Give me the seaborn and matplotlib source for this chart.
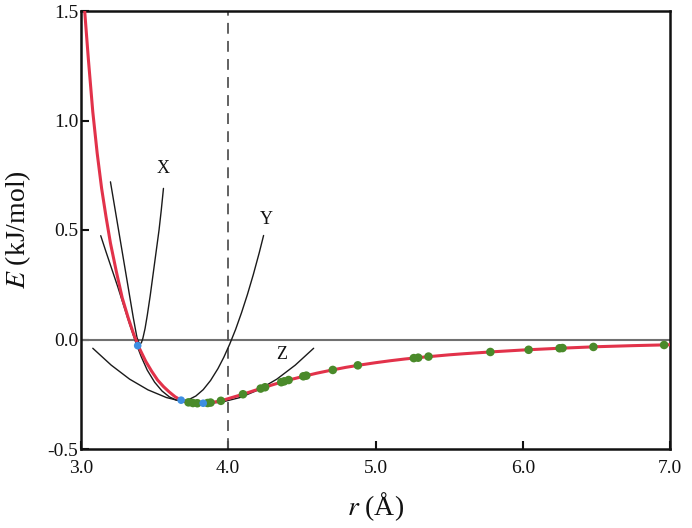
import matplotlib
matplotlib.use("Agg")
import matplotlib.pyplot as plt
import seaborn as sns
from matplotlib.ticker import FormatStrFormatter

# potential energy curve E(r)
r_curve = [3.025, 3.05, 3.08, 3.11, 3.14, 3.17, 3.20, 3.24, 3.28, 3.32, 3.36, 3.40,
           3.44, 3.48, 3.52, 3.56, 3.60, 3.64, 3.68, 3.72, 3.76, 3.80, 3.84, 3.88,
           3.92, 3.96, 4.00, 4.05, 4.10, 4.20, 4.30, 4.40, 4.50, 4.60, 4.70, 4.80,
           4.90, 5.00, 5.10, 5.20, 5.30, 5.40, 5.50, 5.60, 5.80, 6.00, 6.25, 6.50,
           6.75, 7.00]
e_curve = [1.50, 1.28, 1.04, 0.85, 0.69, 0.56, 0.44, 0.31, 0.19, 0.10, 0.02, -0.045,
           -0.10, -0.145, -0.185, -0.215, -0.24, -0.262, -0.277, -0.286, -0.290, -0.292,
           -0.291, -0.288, -0.284, -0.278, -0.270, -0.260, -0.250, -0.228, -0.207,
           -0.187, -0.170, -0.154, -0.140, -0.127, -0.116, -0.106, -0.097, -0.089,
           -0.082, -0.076, -0.070, -0.065, -0.056, -0.048, -0.040, -0.033, -0.028,
           -0.024]

# sampled points (green) and expansion points (blue)
green_r = [3.73, 3.76, 3.79, 3.86, 3.88, 3.95, 4.10, 4.22, 4.25, 4.36, 4.38, 4.41,
           4.51, 4.53, 4.71, 4.88, 5.26, 5.29, 5.36, 5.78, 6.04, 6.25, 6.27, 6.48, 6.96]
green_e = [-0.287, -0.290, -0.291, -0.290, -0.288, -0.280, -0.250, -0.224, -0.218,
           -0.195, -0.191, -0.185, -0.168, -0.165, -0.139, -0.118, -0.085, -0.083,
           -0.078, -0.057, -0.047, -0.040, -0.039, -0.034, -0.025]
blue_r = [3.385, 3.68, 3.83]
blue_e = [-0.028, -0.277, -0.291]

# harmonic approximations X, Y, Z
x_r = [3.20, 3.22, 3.24, 3.26, 3.28, 3.30, 3.32, 3.34, 3.355, 3.37, 3.38, 3.39,
       3.40, 3.41, 3.42, 3.435, 3.45, 3.47, 3.49, 3.51, 3.53, 3.545, 3.56]
x_e = [0.72, 0.64, 0.56, 0.48, 0.40, 0.32, 0.24, 0.16, 0.10, 0.045, 0.01, -0.01,
       -0.02, -0.015, 0.005, 0.05, 0.11, 0.20, 0.30, 0.40, 0.50, 0.59, 0.69]
y_r = [3.134, 3.17, 3.21, 3.25, 3.29, 3.33, 3.37, 3.41, 3.45, 3.50, 3.55, 3.60,
       3.645, 3.685, 3.73, 3.78, 3.83, 3.88, 3.93, 3.97, 4.01, 4.05, 4.09, 4.13,
       4.17, 4.21, 4.24]
y_e = [0.474, 0.40, 0.32, 0.24, 0.155, 0.07, -0.01, -0.08, -0.14, -0.195, -0.235,
       -0.262, -0.276, -0.28, -0.275, -0.258, -0.229, -0.187, -0.133, -0.081,
       -0.021, 0.046, 0.122, 0.205, 0.296, 0.395, 0.475]
z_r = [3.08, 3.205, 3.33, 3.455, 3.58, 3.705, 3.83, 3.955, 4.08, 4.205, 4.33, 4.455, 4.58]
z_e = [-0.040, -0.117, -0.181, -0.230, -0.265, -0.286, -0.293, -0.286, -0.265,
       -0.230, -0.181, -0.117, -0.040]

labels = ["X", "Y", "Z"]
label_r = [3.56, 4.26, 4.365]
label_e = [0.78, 0.55, -0.068]

x_ticks = [3.0, 4.0, 5.0, 6.0, 7.0]
y_ticks = [-0.5, 0.0, 0.5, 1.0, 1.5]

sns.set_theme(style="ticks")
plt.rcParams["font.family"] = ["Liberation Serif", "DejaVu Serif"]
plt.rcParams["mathtext.fontset"] = "stix"
plt.rcParams["axes.unicode_minus"] = False

fig = plt.figure(figsize=(6.92, 5.28), dpi=100)
ax = fig.add_axes([81 / 692, 1 - 449 / 528, 589 / 692, 438 / 528])

# reference lines
ax.axhline(0.0, color="#707070", lw=1.5, zorder=1)
ax.axvline(4.0, color="#555555", lw=1.3, dashes=(6, 4), zorder=1)

# approximations
for rr, ee in [(x_r, x_e), (y_r, y_e), (z_r, z_e)]:
    sns.lineplot(x=rr, y=ee, ax=ax, color="#1a1a1a", lw=1.0,
                 sort=False, estimator=None, zorder=2)

sns.lineplot(x=r_curve, y=e_curve, ax=ax, color="#e2324a", lw=2.2,
             sort=False, estimator=None, zorder=3)

sns.scatterplot(x=green_r, y=green_e, ax=ax, color="#4a8a2a", s=38,
                edgecolor="none", zorder=4)
sns.scatterplot(x=blue_r, y=blue_e, ax=ax, color="#3d8ee2", s=30,
                edgecolor="none", zorder=5)

for lab, lr, le in zip(labels, label_r, label_e):
    ax.text(lr, le, lab, fontsize=13, ha="center", va="center", color="#111111")

ax.set_xlim(3.0, 7.0)
ax.set_ylim(-0.5, 1.5)
ax.set_xticks(x_ticks)
ax.set_yticks(y_ticks)
ax.xaxis.set_major_formatter(FormatStrFormatter("%.1f"))
ax.yaxis.set_major_formatter(FormatStrFormatter("%.1f"))
ax.tick_params(axis="both", direction="in", length=6, width=1.5,
               labelsize=14, colors="#111111")
ax.tick_params(axis="y", pad=2)
ax.tick_params(axis="x", pad=8)

for side in ["left", "right", "top", "bottom"]:
    ax.spines[side].set_visible(True)
    ax.spines[side].set_linewidth(1.8)
    ax.spines[side].set_color("#111111")

ax.set_xlabel(r"$r$ (Å)", fontsize=20, color="#111111")
ax.set_ylabel(r"$E$ (kJ/mol)", fontsize=20, color="#111111")
ax.xaxis.set_label_coords(0.5, -0.095)
ax.yaxis.set_label_coords(-0.082, 0.5)

fig.savefig("out.png", dpi=100)
